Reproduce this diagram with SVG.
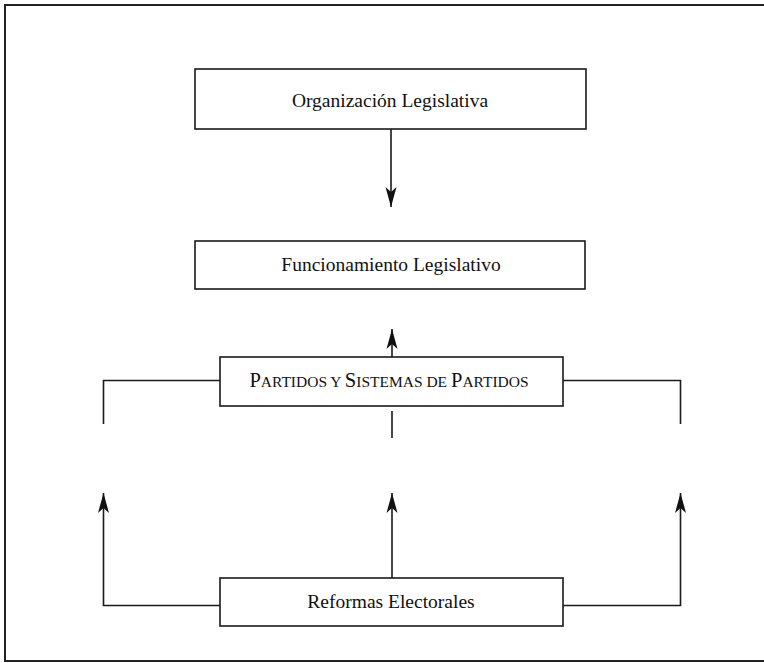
<svg xmlns="http://www.w3.org/2000/svg" width="764" height="663" viewBox="0 0 764 663">
<style>
.box{fill:#fff;stroke:#1a1a1a;stroke-width:1.6}
.ln{fill:none;stroke:#1a1a1a;stroke-width:1.6}
.t{font-family:"Liberation Serif","Times New Roman",serif;fill:#111;text-anchor:middle}
</style>
<defs>
<marker id="ah" viewBox="0 0 20 12" refX="20" refY="6" markerWidth="20" markerHeight="12" markerUnits="userSpaceOnUse" orient="auto">
<path d="M0,0.5 L20,6 L0,11.5 L5,6 Z" fill="#111"/>
</marker>
</defs>
<rect width="764" height="663" fill="#fff"/>
<path d="M764,5 H5 V661 H764" fill="none" stroke="#222" stroke-width="2"/>
<g id="connectors">
<line class="ln" x1="391" y1="129" x2="391" y2="207" marker-end="url(#ah)"/>
<line class="ln" x1="392" y1="364" x2="392" y2="329" marker-end="url(#ah)"/>
<line class="ln" x1="392" y1="411" x2="392" y2="438"/>
<polyline class="ln" points="220,380.5 103.5,380.5 103.5,424"/>
<polyline class="ln" points="563,380.5 680.5,380.5 680.5,424"/>
<line class="ln" x1="392" y1="578" x2="392" y2="493" marker-end="url(#ah)"/>
<polyline class="ln" points="220,605.5 103.5,605.5 103.5,493" marker-end="url(#ah)"/>
<polyline class="ln" points="563,605.5 680.5,605.5 680.5,493" marker-end="url(#ah)"/>
</g>
<g id="organizacion">
<rect class="box" x="195" y="69" width="391" height="60"/>
<text class="t" x="390" y="107" font-size="19.5">Organización Legislativa</text>
</g>
<g id="funcionamiento">
<rect class="box" x="195" y="241" width="390" height="48"/>
<text class="t" x="391" y="271" font-size="19.5">Funcionamiento Legislativo</text>
</g>
<g id="partidos">
<rect class="box" x="220" y="357" width="343" height="49"/>
<text class="t" x="389" y="387" font-size="20.5">P<tspan font-size="15.5">ARTIDOS Y </tspan>S<tspan font-size="15.5">ISTEMAS DE </tspan>P<tspan font-size="15.5">ARTIDOS</tspan></text>
</g>
<g id="reformas">
<rect class="box" x="220" y="578" width="343" height="48"/>
<text class="t" x="391" y="608" font-size="19.5">Reformas Electorales</text>
</g>
</svg>
